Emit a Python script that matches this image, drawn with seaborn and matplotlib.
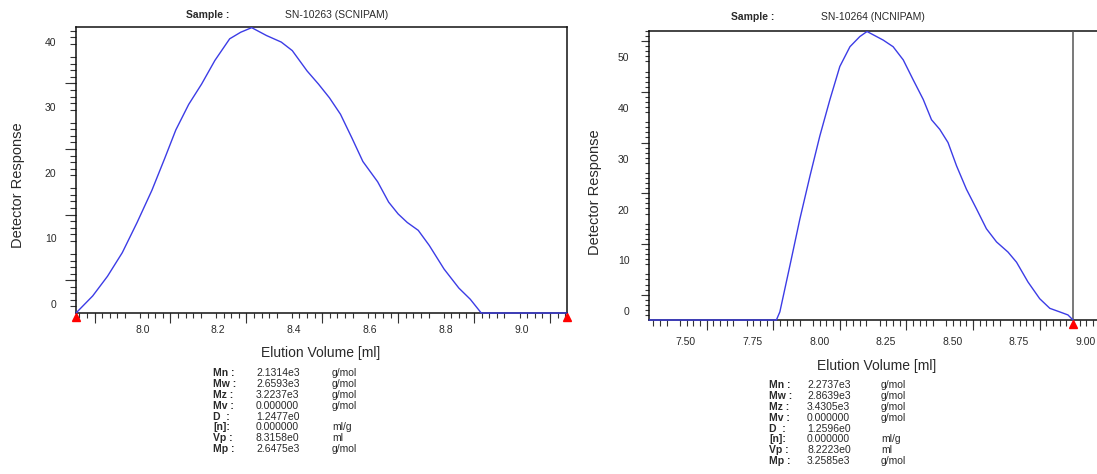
import matplotlib
matplotlib.use('Agg')
import matplotlib.pyplot as plt
import seaborn as sns
import numpy as np
from matplotlib.ticker import FixedLocator, MultipleLocator, NullLocator
from matplotlib.transforms import ScaledTranslation

# --- data ---
left_vol = [7.851, 7.895, 7.934, 7.973, 8.012, 8.051, 8.085, 8.114, 8.148, 8.182,
            8.217, 8.256, 8.285, 8.314, 8.353, 8.392, 8.421, 8.460, 8.490, 8.519,
            8.548, 8.578, 8.607, 8.646, 8.675, 8.700, 8.724, 8.753, 8.782, 8.821,
            8.860, 8.890, 8.919, 9.145]
left_resp = [0, 2.6, 5.6, 9.2, 13.8, 18.7, 23.6, 27.9, 31.8, 34.9,
             38.5, 41.8, 42.8, 43.5, 42.3, 41.3, 40.0, 36.9, 34.9, 32.8,
             30.3, 26.7, 23.1, 20.0, 16.9, 15.1, 13.8, 12.6, 10.3, 6.7,
             3.8, 2.1, 0, 0]
left_limits = [7.851, 9.145]

right_vol = [7.409, 7.887, 7.900, 7.938, 7.975, 8.013, 8.050, 8.088, 8.125, 8.163,
             8.200, 8.227, 8.263, 8.288, 8.325, 8.363, 8.400, 8.438, 8.469, 8.500,
             8.531, 8.563, 8.600, 8.638, 8.675, 8.713, 8.756, 8.788, 8.831, 8.875,
             8.913, 8.950, 8.981, 9.000]
right_resp = [0, 0, 1.6, 10.8, 19.9, 28.4, 36.3, 43.5, 50.0, 53.9,
              55.9, 56.9, 55.9, 55.2, 53.9, 51.3, 47.4, 43.5, 39.5, 37.6,
              35.0, 30.4, 25.8, 21.9, 18.0, 15.4, 13.4, 11.4, 7.5, 4.2,
              2.3, 1.6, 1.0, 0]
right_limits = [9.0]

left_xticks = [8.0, 8.2, 8.4, 8.6, 8.8, 9.0]
left_xlabels = ['8.0', '8.2', '8.4', '8.6', '8.8', '9.0']
left_yticks = [0, 10, 20, 30, 40]
right_xticks = [7.50, 7.75, 8.00, 8.25, 8.50, 8.75, 9.00]
right_xlabels = ['7.50', '7.75', '8.00', '8.25', '8.50', '8.75', '9.00']
right_yticks = [0, 10, 20, 30, 40, 50]

left_sample = 'SN-10263 (SCNIPAM)'
right_sample = 'SN-10264 (NCNIPAM)'

stat_names = ['Mn :', 'Mw :', 'Mz :', 'Mv :', 'D  :', '[n]:', 'Vp :', 'Mp :']
stat_units = ['g/mol', 'g/mol', 'g/mol', 'g/mol', '', 'ml/g', 'ml', 'g/mol']
left_stats = ['2.1314e3', '2.6593e3', '3.2237e3', '0.000000', '1.2477e0', '0.000000', '8.3158e0', '2.6475e3']
right_stats = ['2.2737e3', '2.8639e3', '3.4305e3', '0.000000', '1.2596e0', '0.000000', '8.2223e0', '3.2585e3']

W, H = 1097, 474
LINE = '#3c3ce6'
INK = '#2a2a2a'

sns.set_theme(style='white')
plt.rcParams['font.family'] = ['Liberation Sans', 'DejaVu Sans']

fig = plt.figure(figsize=(W / 100, H / 100), dpi=100)


def box(x0, y0, x1, y1):
    # pixel box (top-left origin) -> figure fraction rect
    return [x0 / W, 1 - y1 / H, (x1 - x0) / W, (y1 - y0) / H]


def fx(x):
    return x / W


def fy(y):
    return 1 - y / H


def dress(ax, xticks, xlabels, yticks, xminor, xmid, xlen, ylen, xpad):
    for s in ax.spines.values():
        s.set_color('#111111')
        s.set_linewidth(1.1)
    ax.xaxis.set_major_locator(FixedLocator(xticks))
    ax.set_xticklabels(xlabels)
    ax.xaxis.set_minor_locator(MultipleLocator(xminor))
    ax.yaxis.set_major_locator(FixedLocator(yticks))
    ax.set_yticklabels([str(v) for v in yticks])
    ax.yaxis.set_minor_locator(MultipleLocator(1))
    ax.tick_params(axis='x', which='major', direction='out', length=xlen[0], width=0.9,
                   color='#333333', labelsize=7.5, labelcolor=INK, pad=xpad)
    ax.tick_params(axis='x', which='minor', direction='out', length=xlen[2], width=0.8,
                   color='#333333', bottom=True)
    ax.tick_params(axis='y', which='major', direction='out', length=ylen[0], width=0.9,
                   color='#333333', labelsize=7.5, labelcolor=INK, pad=1)
    ax.tick_params(axis='y', which='minor', direction='out', length=ylen[2], width=0.8,
                   color='#333333', left=True)
    shift_x = ScaledTranslation(0.025, 0, fig.dpi_scale_trans)
    for lbl in ax.get_xticklabels():
        lbl.set_horizontalalignment('left')
        lbl.set_transform(lbl.get_transform() + shift_x)
    shift_y = ScaledTranslation(0, 0.09, fig.dpi_scale_trans)
    for lbl in ax.get_yticklabels():
        lbl.set_transform(lbl.get_transform() + shift_y)
    # medium ticks at the half steps
    sx = ax.secondary_xaxis('bottom')
    sx.set_xticks(xmid)
    sx.xaxis.set_minor_locator(NullLocator())
    sx.tick_params(direction='out', length=xlen[1], width=0.8, color='#333333', labelbottom=False)
    sx.spines['bottom'].set_visible(False)
    ymid = [v + 5 for v in yticks]
    sy = ax.secondary_yaxis('left')
    sy.set_yticks(ymid)
    sy.yaxis.set_minor_locator(NullLocator())
    sy.tick_params(direction='out', length=ylen[1], width=0.8, color='#333333', labelleft=False)
    sy.spines['left'].set_visible(False)


def stats_block(x_name, x_val, x_unit, y_top, values):
    for i, (n, v, u) in enumerate(zip(stat_names, values, stat_units)):
        y = y_top + i * 10.9
        fig.text(fx(x_name), fy(y), n, fontsize=7.5, fontweight='bold', color=INK, va='center')
        fig.text(fx(x_val), fy(y), v, fontsize=7.5, color=INK, va='center')
        if u:
            fig.text(fx(x_unit), fy(y), u, fontsize=7.5, color=INK, va='center')


# ---------- left panel ----------
ax1 = fig.add_axes(box(76, 27, 567, 313))
sns.lineplot(x=left_vol, y=left_resp, ax=ax1, color=LINE, linewidth=1.0, estimator=None,
             zorder=4, clip_on=False)
ax1.set_xlim(7.851, 9.145)
ax1.set_ylim(0, 43.6)
dress(ax1, left_xticks, left_xlabels, left_yticks, 0.02,
      [7.9, 8.1, 8.3, 8.5, 8.7, 8.9, 9.1], (11, 7, 3.5), (13, 8, 4), -2.5)
tri = ax1.transData + ScaledTranslation(0, -0.035, fig.dpi_scale_trans)
ax1.plot(left_limits, [0] * len(left_limits), ls='none', marker='^', ms=6,
         color='#ff0000', clip_on=False, transform=tri, zorder=5)
ax1.set_xlabel('Elution Volume [ml]', fontsize=10, color=INK, va='center')
ax1.xaxis.set_label_coords(fx(321), fy(353), transform=fig.transFigure)
ax1.set_ylabel('Detector Response', fontsize=10.5, color=INK, va='center')
ax1.yaxis.set_label_coords(fx(18), fy(185), transform=fig.transFigure)
fig.text(fx(208), fy(15), 'Sample :', fontsize=7.5, fontweight='bold', color=INK, ha='center', va='center')
fig.text(fx(337), fy(15), left_sample, fontsize=7.5, color=INK, ha='center', va='center')
stats_block(213, 256, 332, 373, left_stats)

# ---------- right panel ----------
ax2 = fig.add_axes(box(649, 31, 1097, 320))
sns.lineplot(x=right_vol, y=right_resp, ax=ax2, color=LINE, linewidth=1.0, estimator=None,
             zorder=4, clip_on=False)
ax2.set_xlim(7.409, 9.09)
ax2.set_ylim(0, 57.0)
ax2.spines['right'].set_visible(False)
dress(ax2, right_xticks, right_xlabels, right_yticks, 0.025,
      [7.625, 7.875, 8.125, 8.375, 8.625, 8.875], (11.5, 7, 4), (13, 6, 3), 1)
ax2.axvline(right_limits[0], color='#555555', lw=1.1, zorder=3)
tri2 = ax2.transData + ScaledTranslation(0, -0.035, fig.dpi_scale_trans)
ax2.plot(right_limits, [0] * len(right_limits), ls='none', marker='^', ms=6,
         color='#ff0000', clip_on=False, transform=tri2, zorder=5)
ax2.set_xlabel('Elution Volume [ml]', fontsize=10, color=INK, va='center')
ax2.xaxis.set_label_coords(fx(877), fy(366), transform=fig.transFigure)
ax2.set_ylabel('Detector Response', fontsize=10.5, color=INK, va='center')
ax2.yaxis.set_label_coords(fx(595), fy(192), transform=fig.transFigure)
fig.text(fx(753), fy(17), 'Sample :', fontsize=7.5, fontweight='bold', color=INK, ha='center', va='center')
fig.text(fx(873), fy(17), right_sample, fontsize=7.5, color=INK, ha='center', va='center')
stats_block(769, 807, 881, 385, right_stats)

fig.savefig('out.png', dpi=100)
